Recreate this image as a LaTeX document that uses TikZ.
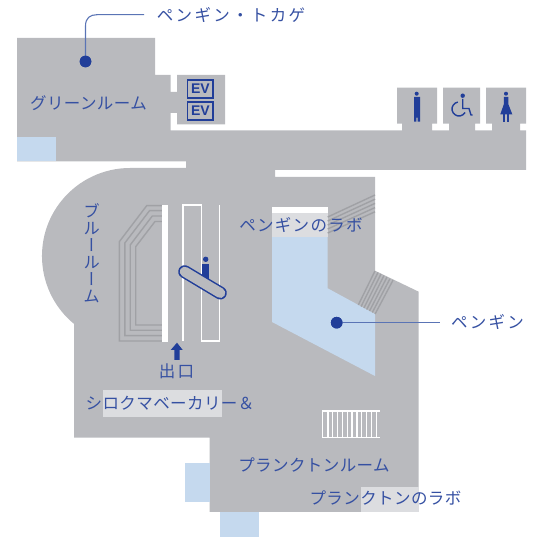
\documentclass[tikz,border=0pt]{standalone}
\usepackage{fontspec}
\newfontfamily\jpA[LetterSpace=2.5]{Noto Sans CJK JP}
\newfontfamily\jpM[LetterSpace=8]{Noto Sans CJK JP}
\newfontfamily\jpB[LetterSpace=14]{Noto Sans CJK JP}
\newfontfamily\jpV[RawFeature=+vert]{Noto Sans CJK JP}
\newfontfamily\evf{Liberation Sans}
\definecolor{floorc}{HTML}{B9BABE}
\definecolor{lightc}{HTML}{DCDDE0}
\definecolor{waterc}{HTML}{C5D9EE}
\definecolor{inkc}{HTML}{3550A2}
\definecolor{dotc}{HTML}{213E99}
\definecolor{leadc}{HTML}{5A74B5}
\definecolor{hatchc}{HTML}{A0A1A5}
\tikzset{
  flr/.style={fill=floorc,draw=none},
  wtr/.style={fill=waterc,draw=none},
  lgt/.style={fill=lightc,draw=none},
  lab/.style={text=inkc,inner sep=0pt,font=\fontsize{16.5}{17}\selectfont\jpA},
  labm/.style={lab,font=\fontsize{16.5}{17}\selectfont\jpM},
  labw/.style={lab,font=\fontsize{16.5}{17}\selectfont\jpB},
  vlab/.style={text=inkc,inner sep=0pt,align=center,font=\fontsize{16.5}{17}\selectfont\jpV},
  spot/.style={circle,fill=dotc,draw=none,minimum size=11.6pt,inner sep=0pt},
  leader/.style={draw=leadc,line width=1.1pt},
  hatch/.style={draw=hatchc,line width=1.4pt},
  whiteline/.style={draw=white,line width=1.4pt},
  icon/.style={fill=dotc,draw=none},
  evbox/.style={draw=dotc,line width=1.6pt,minimum width=25.5pt,minimum height=18pt,inner sep=0pt,text=dotc,font=\fontsize{14}{14}\selectfont\evf\bfseries}
}
\begin{document}
\begin{tikzpicture}[x=1pt,y=-1pt]
\useasboundingbox (0,0) rectangle (539,537);
% floor
\fill[flr] (17,38) -- (155,38) -- (155,75) -- (170.5,75) -- (170.5,92) -- (177,92) -- (177,75) -- (225,75) -- (225,124.3) -- (177,124.3) -- (177,113) -- (170.5,113) -- (170.5,130.3) -- (402,130.3) -- (402,123.7) -- (397,123.7) -- (397,87.7) -- (437,87.7) -- (437,123.7) -- (432,123.7) -- (432,130.3) -- (449,130.3) -- (449,123.7) -- (443,123.7) -- (443,87.7) -- (480,87.7) -- (480,123.7) -- (475,123.7) -- (475,130.3) -- (492,130.3) -- (492,123.7) -- (486,123.7) -- (486,87.7) -- (526,87.7) -- (526,123.7) -- (520,123.7) -- (520,130.3) -- (526,130.3) -- (526,170) -- (275,170) -- (275,177) -- (375,177) -- (375,270.7) -- (418.7,291.7) -- (418.7,512) -- (209.7,512) -- (209.7,437.7) -- (74,437.7) -- (74,323.9) arc[start angle=129.5,end angle=270,radius=88] -- (186,168) -- (186,161.5) -- (17,161.5) -- cycle;
% water and light panels
\fill[wtr] (17,137) rectangle (56,161.5);
\fill[wtr] (185,463) rectangle (209.7,501.7);
\fill[wtr] (220,512) rectangle (259,537);
\fill[wtr] (272,237) -- (327.7,237) -- (327.7,288.3) -- (375,314) -- (375,376) -- (272,322) -- cycle;
\fill[white] (272,207) rectangle (327.7,213);
\fill[lgt] (272,213) rectangle (327.7,237);
\fill[lgt] (103,390) rectangle (222,416.7);
\fill[lgt] (361,487) rectangle (418.7,512);
% upper hatch
\foreach \i in {0,1,2,3,4}{
  \draw[hatch] (327.7,{217+4*\i}) -- (375,{195+4.2*\i});
}
% slanted stairs
\foreach \i in {0,...,6}{
  \draw[hatch] ({375+3*\i},{270.9+1.55*\i}) -- ({358.3+2.8*\i},{305+1.5*\i});
}
% concentric stairs
\draw[hatch] (162,205.7) -- (146.7,205.7) -- (119.3,241.7) -- (119.3,341) -- (162,341);
\draw[hatch] (162,210.7) -- (149.5,210.7) -- (124.8,243) -- (124.8,335.7) -- (162,335.7);
\draw[hatch] (162,216) -- (152.3,216) -- (130.2,245) -- (130.2,330.3) -- (162,330.3);
\draw[hatch] (162,221.5) -- (155,221.5) -- (135.7,246.7) -- (135.7,325) -- (162,325);
% white structures
\fill[white] (162,205) rectangle (168,341.7);
\draw[whiteline] (183,341) -- (183,205) -- (201.3,205) -- (201.3,341) -- (219.3,341) -- (219.3,205);
% white stair
\draw[draw=white,line width=1.4pt] (379.7,411) -- (322.7,411) -- (322.7,437.5) -- (379.7,437.5);
\foreach \i in {1,...,11}{
  \draw[draw=white,line width=1.3pt] ({323+4.85*\i},411) -- ({323+4.85*\i},437.5);
}
% escalator
\fill[icon] (202.3,264) rectangle (209,284);
\fill[icon] (205.7,259.3) circle (2.7);
\draw[draw=dotc,line width=13pt,line cap=round] (184.7,271.7) -- (220.3,293);
\draw[draw=floorc,line width=10pt,line cap=round] (184.7,271.7) -- (220.3,293);
% up arrow
\fill[icon] (177,342.7) -- (182.7,350) -- (179.7,350) -- (179.7,360) -- (174.3,360) -- (174.3,350) -- (170.7,350) -- cycle;
% EV
\node[evbox] (ev1) at (200.4,89) {EV};
\node[evbox] (ev2) at (200.4,110.8) {EV};
% restroom icons
\fill[icon] (416.7,93.7) circle (2);
\fill[icon] (414,97) -- (420,97) -- (420,121.7) -- (417.7,121.7) -- (417.7,117.7) -- (416.3,117.7) -- (416.3,121.7) -- (414,121.7) -- cycle;
\fill[icon] (462.7,95.7) circle (2.2);
\draw[draw=dotc,line width=1.4pt] (462.7,99) -- (462.7,108.5) -- (469,108.5) -- (471,115) -- (472.5,115);
\draw[draw=dotc,line width=1.4pt] (457.8,102.1) arc[start angle=-100,end angle=-330,radius=7];
\fill[icon] (506,93.7) circle (2);
\fill[icon] (503.9,97) -- (508.3,97) -- (508.3,104) -- (512.3,114.3) -- (500.3,114.3) -- (503.9,104) -- cycle;
\fill[icon] (503.3,114) rectangle (505,122);
\fill[icon] (507,114) rectangle (508.7,122);
% spots and leaders
\node[spot] (spotA) at (85.5,61.5) {};
\node[spot] (spotB) at (336.7,322.7) {};
\coordinate (leadA) at (144,14.7);
\coordinate (leadB) at (440,322.7);
\draw[leader] (spotA.center) -- (85.5,26) .. controls (85.5,18) and (90,14.7) .. (97,14.7) -- (leadA);
\draw[leader] (spotB.center) -- (leadB);
\node[spot] at (85.5,61.5) {};
\node[spot] at (336.7,322.7) {};
% labels
\node[labw] (t1) at (231,15) {ペンギン・トカゲ};
\node[lab] (t2) at (88.5,103) {グリーンルーム};
\node[labm] (t3) at (301,225) {ペンギンのラボ};
\node[vlab] (t4) at (91.5,253) {ブ\\ル\\ー\\ル\\ー\\ム};
\node[labw] (t5) at (487.5,322) {ペンギン};
\node[labw] (t6) at (176.5,371) {出口};
\node[lab] (t7) at (170,403) {シロクマベーカリー＆};
\node[lab] (t8) at (314,465) {プランクトンルーム};
\node[lab] (t9) at (385.5,498) {プランクトンのラボ};
\end{tikzpicture}
\end{document}
